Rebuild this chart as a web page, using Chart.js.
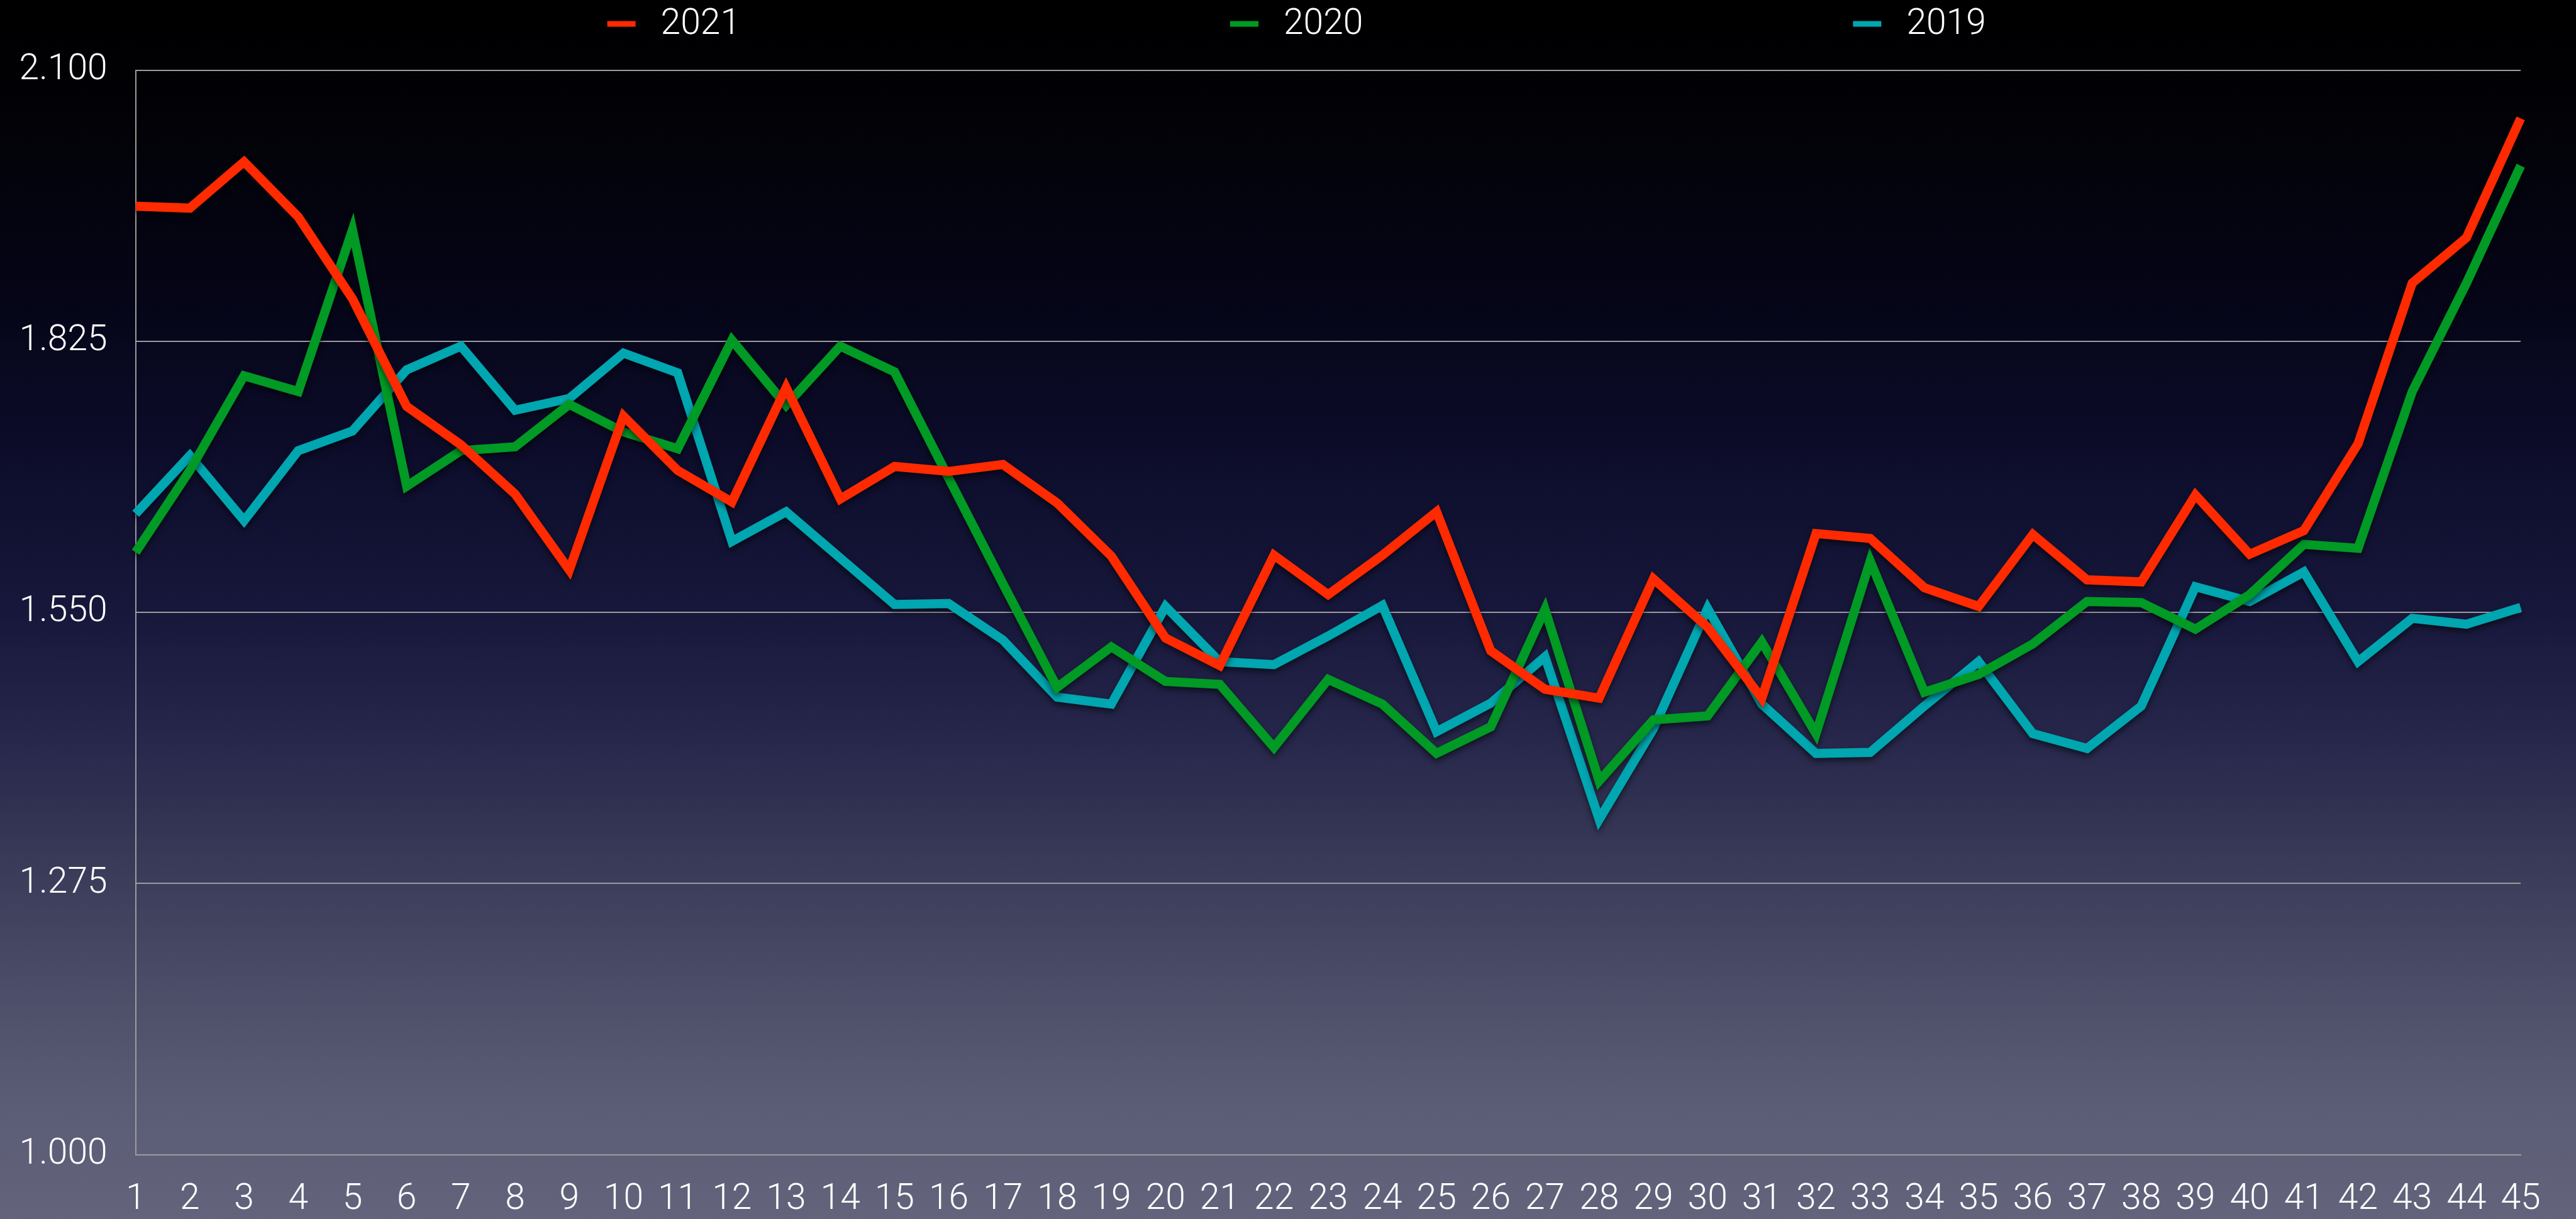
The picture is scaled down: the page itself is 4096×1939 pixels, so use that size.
<!DOCTYPE html>
<html>
<head>
<meta charset="utf-8">
<script src="https://cdn.jsdelivr.net/npm/chart.js@4.4.1/dist/chart.umd.min.js"></script>
<style>
  html, body { margin: 0; padding: 0; }
  body {
    width: 4096px; height: 1939px; overflow: hidden;
    background: linear-gradient(to bottom,
      #000000 0%, #020207 10%, #050517 24%, #0d0d2c 38%, #17173b 50%,
      #25264a 60%, #383957 70%, #4a4b66 80%, #5a5b74 90%, #63647c 100%);
  }
  #wrap { position: relative; width: 4096px; height: 1939px; }
</style>
</head>
<body>
<div id="wrap"><canvas id="chart"></canvas></div>
<script>
// weeks 1..45
const weeks = ['1','2','3','4','5','6','7','8','9','10','11','12','13','14','15','16','17','18','19','20',
  '21','22','23','24','25','26','27','28','29','30','31','32','33','34','35','36','37','38','39','40',
  '41','42','43','44','45'];

const values2021 = [1.962, 1.960, 2.007, 1.951, 1.868, 1.759, 1.720, 1.670, 1.593, 1.749,
  1.694, 1.662, 1.778, 1.665, 1.698, 1.693, 1.700, 1.661, 1.607, 1.524,
  1.496, 1.608, 1.568, 1.608, 1.652, 1.511, 1.472, 1.463, 1.584, 1.535,
  1.463, 1.630, 1.625, 1.575, 1.556, 1.629, 1.583, 1.581, 1.669, 1.609,
  1.633, 1.721, 1.884, 1.930, 2.051];

const values2020 = [1.611, 1.694, 1.790, 1.774, 1.938, 1.678, 1.714, 1.718, 1.761, 1.733,
  1.716, 1.826, 1.760, 1.820, 1.794, 1.686, 1.579, 1.474, 1.515, 1.480,
  1.477, 1.413, 1.482, 1.457, 1.407, 1.434, 1.553, 1.379, 1.441, 1.445,
  1.520, 1.427, 1.602, 1.469, 1.487, 1.518, 1.561, 1.560, 1.533, 1.568,
  1.619, 1.615, 1.774, 1.884, 2.003];

const values2019 = [1.650, 1.709, 1.643, 1.714, 1.734, 1.796, 1.820, 1.755, 1.767, 1.813,
  1.793, 1.622, 1.652, 1.605, 1.558, 1.559, 1.522, 1.464, 1.457, 1.556,
  1.500, 1.497, 1.526, 1.557, 1.429, 1.458, 1.505, 1.340, 1.432, 1.554,
  1.457, 1.407, 1.408, 1.455, 1.500, 1.427, 1.412, 1.455, 1.576, 1.561,
  1.591, 1.500, 1.544, 1.538, 1.555];

const yTicks = [1.000, 1.275, 1.550, 1.825, 2.100];

const seriesNames = ['2021', '2020', '2019'];
const seriesColors = ['#ff2a00', '#009a24', '#00a6b0'];

const FONT = { family: 'Roboto, "Liberation Sans", sans-serif', size: 57, weight: '300' };
const GRID = '#9c9c9c';

// soft drop shadow under the lines
const lineShadow = {
  id: 'lineShadow',
  beforeDatasetsDraw(chart) {
    const ctx = chart.ctx;
    ctx.save();
    ctx.shadowColor = 'rgba(0,0,0,0.55)';
    ctx.shadowBlur = 10;
    ctx.shadowOffsetY = 5;
  },
  afterDatasetsDraw(chart) {
    chart.ctx.restore();
  }
};

// legend spread across the top, as in the original
const topLegend = {
  id: 'topLegend',
  afterDraw(chart) {
    const ctx = chart.ctx;
    const step = chart.width * 0.2418;
    const first = chart.width / 2 - 92 - step;
    ctx.save();
    ctx.font = `${FONT.weight} ${FONT.size}px ${FONT.family}`;
    ctx.textBaseline = 'middle';
    ctx.textAlign = 'left';
    seriesNames.forEach((name, i) => {
      const x = first + i * step;
      ctx.fillStyle = seriesColors[i];
      ctx.fillRect(x, 33.5, 45, 9);
      ctx.fillStyle = '#ffffff';
      ctx.fillText(name, x + 85, 40);
    });
    ctx.restore();
  }
};

const datasets = [values2021, values2020, values2019].map((vals, i) => ({
  label: seriesNames[i],
  data: vals,
  borderColor: seriesColors[i],
  backgroundColor: seriesColors[i],
  borderWidth: 14.5,
  borderJoinStyle: 'miter',
  borderCapStyle: 'butt',
  pointRadius: 0,
  tension: 0,
  fill: false
}));

new Chart(document.getElementById('chart'), {
  type: 'line',
  data: { labels: weeks, datasets: datasets },
  options: {
    responsive: true,
    maintainAspectRatio: false,
    animation: false,
    layout: { padding: { left: 0, right: 88, top: 111.5, bottom: 0 } },
    plugins: {
      legend: { display: false },
      tooltip: { enabled: false }
    },
    scales: {
      x: {
        offset: false,
        grid: { display: false, drawTicks: false },
        border: { display: true, color: GRID, width: 2 },
        ticks: {
          color: '#ffffff', font: FONT, padding: 38,
          autoSkip: false, maxRotation: 0, minRotation: 0
        },
        afterFit(scale) { scale.height = 102.3; }
      },
      y: {
        min: 1, max: 2.1,
        grid: { color: GRID, lineWidth: 2, drawTicks: false },
        border: { display: true, color: GRID, width: 2 },
        ticks: {
          color: '#ffffff', font: FONT, padding: 45,
          callback: v => Number(v).toFixed(3)
        },
        afterBuildTicks(scale) { scale.ticks = yTicks.map(v => ({ value: v })); },
        afterFit(scale) { scale.width = 215.7; }
      }
    }
  },
  plugins: [lineShadow, topLegend]
});
</script>
</body>
</html>
